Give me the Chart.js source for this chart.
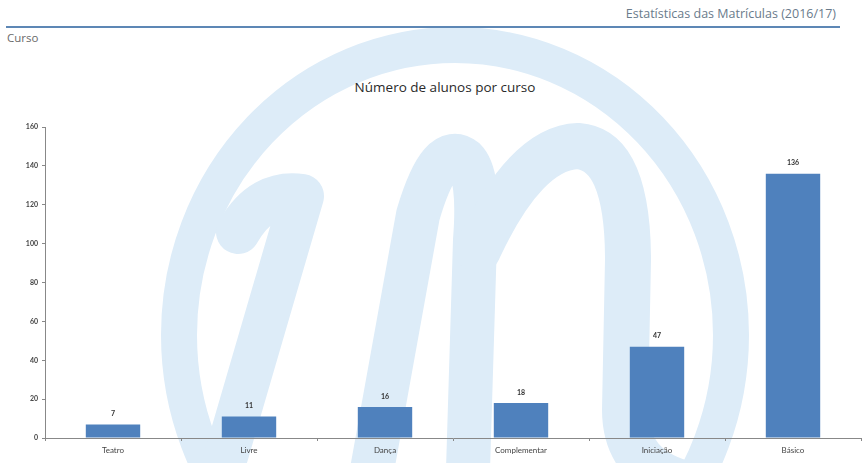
<!DOCTYPE html>
<html>
<head>
<meta charset="utf-8">
<script src="https://cdn.jsdelivr.net/npm/chart.js@4"></script>
<style>
  body { margin: 0; background: #fff; }
  #wrap { position: relative; width: 865px; height: 463px; overflow: hidden; font-family: "Open Sans", sans-serif; font-weight: 400; }
  #logo, canvas { position: absolute; left: 0; top: 0; }
  #cab { position: absolute; right: 29px; top: 5px; font-size: 12.5px; color: #6a7b8b; }
  #linha { position: absolute; left: 6px; top: 26px; width: 834px; height: 2px; background: #5d87b5; }
  #curso { position: absolute; left: 7px; top: 30px; font-size: 11.5px; color: #6a6a6a; }
  #titulo { position: absolute; left: 295px; width: 300px; top: 78px; text-align: center; font-size: 13.5px; color: #2a2a2a; white-space: nowrap; }
</style>
</head>
<body>
<div id="wrap">
  <!-- marca d'água ao fundo -->
  <svg id="logo" width="865" height="463">
    <g fill="none" stroke="#ddecf8" stroke-linecap="round" stroke-linejoin="round">
      <ellipse cx="455" cy="335" rx="276" ry="290" stroke-width="36"/>
      <path d="M 238 232 Q 262 190 302 196 L 222 470" stroke-width="44"/>
      <path d="M 372 470 L 418 215 Q 440 140 465 160 Q 480 175 475 240 L 468 470" stroke-width="44"/>
      <path d="M 478 250 Q 525 148 578 146 Q 628 150 628 260 L 625 410 Q 625 470 690 485" stroke-width="46"/>
    </g>
  </svg>
  <div id="cab">Estatísticas das Matrículas (2016/17)</div>
  <div id="linha"></div>
  <div id="curso">Curso</div>
  <div id="titulo">Número de alunos por curso</div>
  <canvas id="grafico" width="865" height="463"></canvas>
</div>

<script>
const cursos = ['Teatro', 'Livre', 'Dança', 'Complementar', 'Iniciação', 'Básico'];
const alunos = [7, 11, 16, 18, 47, 136];
const eixoMax = 160;
const eixoPasso = 20;

// valores por cima das barras
const rotulos = {
  id: 'rotulos',
  afterDatasetsDraw(chart) {
    const ctx = chart.ctx;
    const meta = chart.getDatasetMeta(0);
    ctx.save();
    ctx.font = 'bold 7px Lato';
    ctx.fillStyle = '#333';
    ctx.textAlign = 'center';
    ctx.textBaseline = 'bottom';
    meta.data.forEach((bar, i) => {
      ctx.fillText(alunos[i], bar.x, bar.y - 7);
    });
    ctx.restore();
  }
};

const ctx = document.getElementById('grafico').getContext('2d');
new Chart(ctx, {
  type: 'bar',
  data: {
    labels: cursos,
    datasets: [{
      data: alunos,
      backgroundColor: '#4f81bd',
      categoryPercentage: 0.8,
      barPercentage: 0.5
    }]
  },
  options: {
    responsive: false,
    animation: false,
    layout: { padding: { top: 127, right: 4, left: 0, bottom: 0 } },
    plugins: {
      legend: { display: false },
      tooltip: { enabled: false }
    },
    scales: {
      x: {
        grid: { offset: true, drawOnChartArea: false, tickLength: 3, color: '#888' },
        border: { color: '#888', width: 1 },
        ticks: { font: { family: 'Lato', size: 8 }, color: '#444', padding: 5 },
        afterFit: (scale) => { scale.height = 25; }
      },
      y: {
        min: 0,
        max: eixoMax,
        grid: { drawOnChartArea: false, tickLength: 3, color: '#888' },
        border: { color: '#888', width: 1 },
        ticks: { stepSize: eixoPasso, font: { family: 'Lato', size: 7, weight: 'bold' }, color: '#444', padding: 4 },
        afterFit: (scale) => { scale.width = 45; }
      }
    }
  },
  plugins: [rotulos]
});
</script>
</body>
</html>
